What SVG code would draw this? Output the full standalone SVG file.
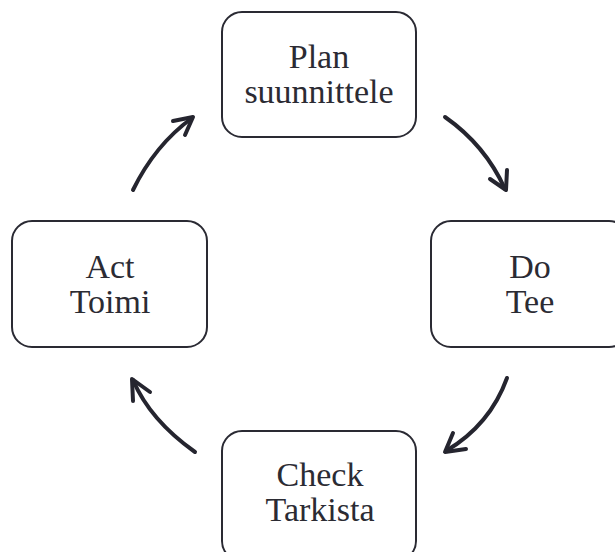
<svg xmlns="http://www.w3.org/2000/svg" width="615" height="552" viewBox="0 0 615 552">
  <style>
    .box { fill: #ffffff; stroke: #2a2a33; stroke-width: 2; }
    .lbl { font-family: 'Liberation Serif', 'DejaVu Serif', 'Times New Roman', serif; font-size: 34px; fill: #2b2b33; text-anchor: middle; }
    .arc { fill: none; stroke: #25252f; stroke-width: 4; stroke-linecap: round; stroke-linejoin: round; }
  </style>
  <rect width="615" height="552" fill="#ffffff"/>

  <g id="plan">
    <rect class="box" x="222" y="12" width="194" height="125" rx="20"/>
    <text class="lbl" x="319" y="68" font-family="Liberation Serif, serif">Plan</text>
    <text class="lbl" x="319" y="103" font-family="Liberation Serif, serif">suunnittele</text>
  </g>

  <g id="do">
    <rect class="box" x="431" y="221" width="198" height="126" rx="20"/>
    <text class="lbl" x="530" y="278" font-family="Liberation Serif, serif">Do</text>
    <text class="lbl" x="530" y="313" font-family="Liberation Serif, serif">Tee</text>
  </g>

  <g id="check">
    <rect class="box" x="222" y="431" width="194" height="130" rx="20"/>
    <text class="lbl" x="320" y="486" font-family="Liberation Serif, serif">Check</text>
    <text class="lbl" x="320" y="521" font-family="Liberation Serif, serif">Tarkista</text>
  </g>

  <g id="act">
    <rect class="box" x="12" y="221" width="195" height="126" rx="20"/>
    <text class="lbl" x="110" y="278" font-family="Liberation Serif, serif">Act</text>
    <text class="lbl" x="110" y="313" font-family="Liberation Serif, serif">Toimi</text>
  </g>

  <g id="connectors">
    <path class="arc" d="M445,117 Q485,145 505,189"/>
    <path class="arc" d="M490,179 L506,190 L507,170"/>
    <path class="arc" d="M507,378 Q490,425 446,451"/>
    <path class="arc" d="M453,433 L445,452 L466,449"/>
    <path class="arc" d="M195,452 Q150,420 133,380"/>
    <path class="arc" d="M133,401 L132,379 L150,392"/>
    <path class="arc" d="M133,190 Q155,145 192,118"/>
    <path class="arc" d="M173,121 L193,117 L185,135"/>
  </g>
</svg>
